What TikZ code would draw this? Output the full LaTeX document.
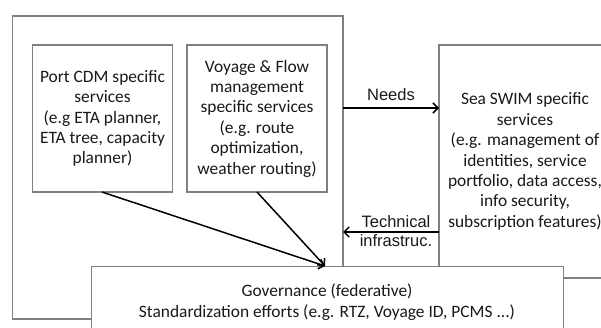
\documentclass[tikz,border=0pt]{standalone}
\usepackage{fontspec}
\setmainfont{Carlito}
\newfontfamily\labelfont{Liberation Sans}
\usetikzlibrary{arrows.meta}
\begin{document}
\begin{tikzpicture}[x=1pt,y=-1pt,
  boxline/.style={draw=black!50,line width=1.1pt},
  svcbox/.style={boxline,fill=white,rectangle,inner sep=0pt,align=center,
     font=\fontsize{17.4}{20.4}\selectfont,text=black!90},
  conn/.style={draw=black,line width=1.5pt,-{Straight Barb[length=5pt,width=10pt]}},
  lbl/.style={font=\labelfont\fontsize{16.5}{19}\selectfont,inner sep=0pt,align=center,text=black!90}]
\clip (0,0) rectangle (601,327);
\fill[white] (0,0) rectangle (601,327);
% outer frame
\draw[boxline] (12.5,16) rectangle (343,319);
\coordinate (outerR) at (343,108);
\coordinate (outerR2) at (343,232);
% services boxes
\node[svcbox,minimum width=140pt,minimum height=147pt] (cdm) at (102.5,118.5)
  {Port CDM specific\\services\\(e.g ETA planner,\\ETA tree, capacity\\planner)};
\node[svcbox,minimum width=140pt,minimum height=147pt] (voy) at (257,118.5)
  {Voyage \& Flow\\management\\specific services\\(e.g. route\\optimization,\\weather routing)};
\node[svcbox,minimum width=172pt,minimum height=233pt] (swim) at (525,161.5)
  {Sea SWIM specific\\services\\(e.g. management of\\identities, service\\portfolio, data access,\\info security,\\subscription features)};
\node[svcbox,minimum width=472pt,minimum height=90pt,anchor=north west] (gov) at (91,266) {};
\node[font=\fontsize{17.4}{20.4}\selectfont,text=black!90,align=center,inner sep=0pt] (govtxt) at (327,302)
  {Governance (federative)\\Standardization efforts (e.g. RTZ, Voyage ID, PCMS ...)};
% connectors
\coordinate (swimL1) at (439,108);
\coordinate (swimL2) at (439,232);
\draw[conn] (outerR) -- (swimL1);
\draw[conn] (swimL2) -- (outerR2);
\node[lbl] (needs) at (391,95) {Needs};
\node[lbl] (tech) at (396,222) {Technical};
\node[lbl] (infra) at (396,241) {infrastruc.};
\coordinate (govtop) at (325,266);
\draw[conn] (102,192) -- (govtop);
\draw[conn] (257,192) -- (govtop);
\end{tikzpicture}
\end{document}
